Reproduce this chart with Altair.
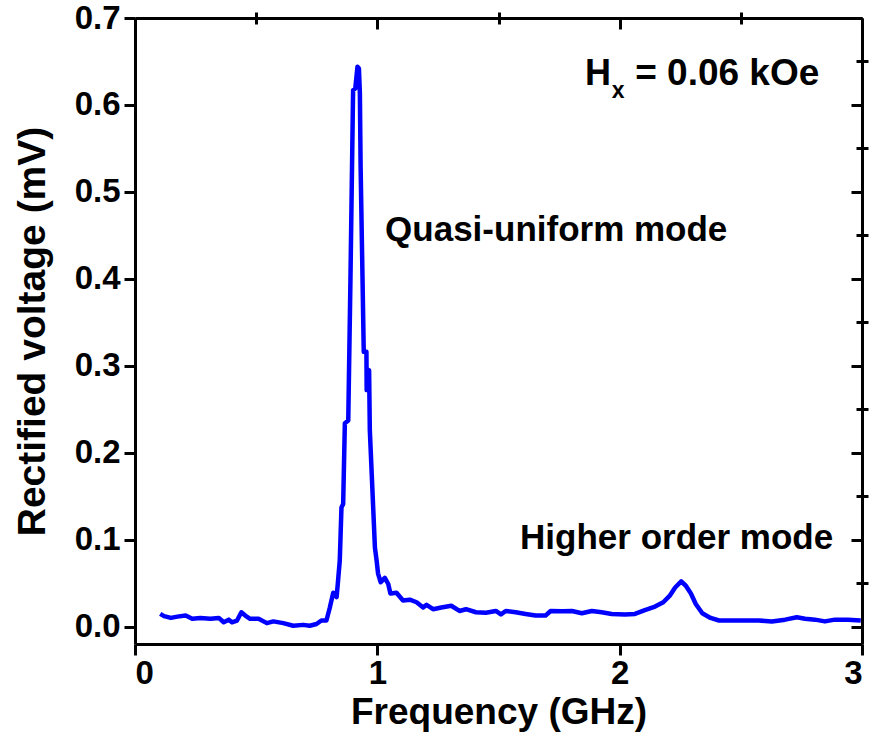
import altair as alt
import pandas as pd

# Spectrum
freq = [0.104, 0.12, 0.148, 0.175, 0.209, 0.236, 0.27, 0.311, 0.346, 0.366, 0.387, 0.40, 0.421,
        0.439, 0.455, 0.475, 0.51, 0.544, 0.571, 0.612, 0.653, 0.694, 0.721, 0.749, 0.769, 0.79,
        0.804, 0.818, 0.832, 0.838, 0.845, 0.852, 0.859, 0.866, 0.880, 0.889, 0.900, 0.909, 0.918,
        0.924, 0.928, 0.931, 0.939, 0.944, 0.955, 0.956, 0.966, 0.969, 0.990, 0.997, 1.003, 1.014,
        1.031, 1.045, 1.054, 1.079, 1.106, 1.134, 1.162, 1.189, 1.203, 1.230, 1.264, 1.305, 1.339,
        1.366, 1.407, 1.448, 1.489, 1.510, 1.530, 1.571, 1.612, 1.653, 1.694, 1.715, 1.763, 1.803,
        1.844, 1.885, 1.926, 1.967, 2.022, 2.063, 2.104, 2.146, 2.180, 2.208, 2.229, 2.254, 2.273,
        2.294, 2.314, 2.341, 2.375, 2.410, 2.464, 2.519, 2.574, 2.628, 2.683, 2.731, 2.765, 2.806,
        2.847, 2.888, 2.942, 2.995]
volt = [0.0146, 0.012, 0.010, 0.0115, 0.0127, 0.009, 0.010, 0.009, 0.010, 0.005, 0.008, 0.005, 0.007,
        0.0165, 0.0127, 0.009, 0.009, 0.004, 0.006, 0.004, 0.001, 0.002, 0.001, 0.003, 0.007, 0.007,
        0.022, 0.039, 0.034, 0.053, 0.076, 0.137, 0.141, 0.234, 0.237, 0.398, 0.617, 0.619, 0.644,
        0.642, 0.613, 0.529, 0.398, 0.316, 0.316, 0.272, 0.295, 0.226, 0.091, 0.076, 0.061, 0.051,
        0.056, 0.049, 0.038, 0.039, 0.030, 0.031, 0.028, 0.022, 0.025, 0.020, 0.022, 0.024, 0.018,
        0.020, 0.0165, 0.016, 0.018, 0.014, 0.018, 0.0165, 0.0146, 0.0127, 0.0127, 0.018, 0.0176, 0.018,
        0.0153, 0.018, 0.0165, 0.0146, 0.0138, 0.0146, 0.019, 0.023, 0.028, 0.036, 0.045, 0.052, 0.047,
        0.038, 0.026, 0.0153, 0.010, 0.007, 0.007, 0.007, 0.007, 0.006, 0.008, 0.0107, 0.009, 0.008,
        0.006, 0.008, 0.008, 0.007]

x_major = [0, 1, 2, 3]
x_minor = [0.5, 1.5, 2.5]
y_major = [0.0, 0.1, 0.2, 0.3, 0.4, 0.5, 0.6, 0.7]
y_minor = [0.05, 0.15, 0.25, 0.35, 0.45, 0.55, 0.65]

# Annotations (text, x, y, size)
ann_text = ["Quasi-uniform mode", "Higher order mode", "H", "x", "= 0.06 kOe"]
ann_x = [1.032, 1.589, 1.857, 1.967, 2.064]
ann_y = [0.4436, 0.0898, 0.623, 0.6075, 0.623]
ann_size = [35, 35, 36, 23, 37]

df = pd.DataFrame({"f": freq, "v": volt, "i": list(range(len(freq)))})
ann = pd.DataFrame({"t": ann_text, "x": ann_x, "y": ann_y, "s": ann_size})

W, H = 727, 626
FONT = "Liberation Sans"
xs = alt.Scale(domain=[0, 3], nice=False, zero=False)
ys = alt.Scale(domain=[-0.02, 0.7], nice=False, zero=False)

common = dict(grid=False, domainColor="black", tickColor="black", domainWidth=3, tickWidth=3,
              labelFont=FONT, titleFont=FONT, labelFontWeight="bold", titleFontWeight="bold",
              labelColor="black", titleColor="black")

base = alt.Chart(df)

line = base.mark_line(color="#0000ff", strokeWidth=4.5, strokeJoin="round").encode(
    x=alt.X("f:Q", scale=xs, axis=alt.Axis(values=x_major, format="d", title="Frequency (GHz)",
                                           tickSize=11, labelFontSize=33, titleFontSize=37,
                                           labelPadding=2, titlePadding=4, **common)),
    y=alt.Y("v:Q", scale=ys, axis=alt.Axis(values=y_major, format=".1f", title="Rectified voltage (mV)",
                                           tickSize=11, labelFontSize=33, titleFontSize=39,
                                           labelPadding=4, titlePadding=22, **common)),
    order="i:Q",
)


def ghost(xaxis, yaxis):
    return base.mark_line(opacity=0).encode(
        x=alt.X("f:Q", scale=xs, axis=xaxis),
        y=alt.Y("v:Q", scale=ys, axis=yaxis),
        order="i:Q",
    )


l2 = ghost(alt.Axis(values=x_minor, labels=False, title="", domain=False, tickSize=6, grid=False,
                    tickColor="black", tickWidth=3),
           alt.Axis(values=y_minor, labels=False, title="", domain=False, tickSize=6, grid=False,
                    tickColor="black", tickWidth=3))
l3 = ghost(alt.Axis(orient="bottom", offset=-H, values=x_major, labels=False, title="", tickSize=11,
                    grid=False, domainColor="black", tickColor="black", domainWidth=3, tickWidth=3),
           alt.Axis(orient="left", offset=-W, values=y_major, labels=False, title="", tickSize=11,
                    grid=False, domainColor="black", tickColor="black", domainWidth=3, tickWidth=3))
l4 = ghost(alt.Axis(orient="bottom", offset=-H, values=x_minor, labels=False, title="", domain=False,
                    tickSize=6, grid=False, tickColor="black", tickWidth=3),
           alt.Axis(orient="left", offset=-W, values=y_minor, labels=False, title="", domain=False,
                    tickSize=6, grid=False, tickColor="black", tickWidth=3))

texts = alt.Chart(ann).mark_text(font=FONT, fontWeight="bold", color="black", align="left",
                                 baseline="alphabetic").encode(
    x=alt.X("x:Q", scale=xs, axis=None),
    y=alt.Y("y:Q", scale=ys, axis=None),
    text="t:N",
    size=alt.Size("s:Q", scale=None, legend=None),
)

chart = alt.layer(line, l2, l3, l4, texts).resolve_axis(
    x="independent", y="independent"
).properties(
    width=W, height=H,
    padding={"left": 135, "top": 18, "right": 10, "bottom": 105},
    autosize=alt.AutoSizeParams(type="none"),
).configure_view(strokeOpacity=0)

chart.save("out.html", embed_options={"renderer": "svg", "actions": False})
